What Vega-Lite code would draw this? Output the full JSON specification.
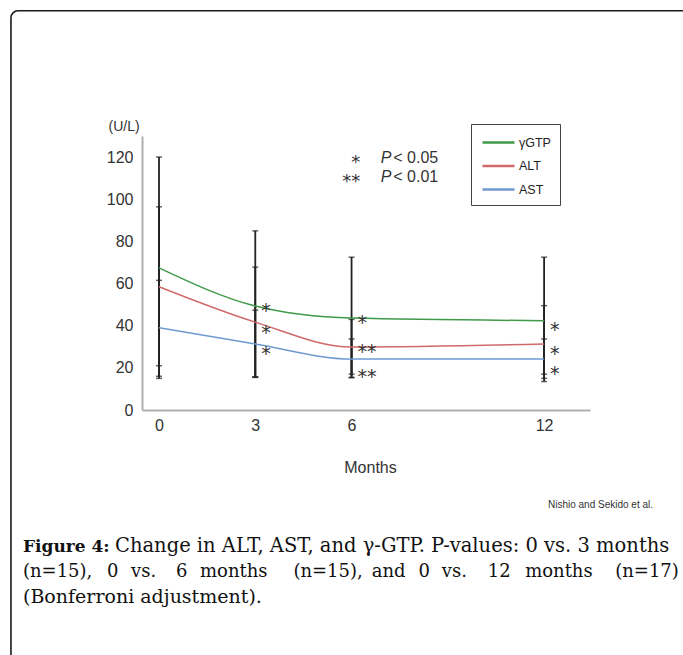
{
  "$schema": "https://vega.github.io/schema/vega-lite/v6.json",
  "width": 448,
  "height": 274,
  "autosize": {"type": "none"},
  "padding": {"left": 142, "top": 136, "right": 93, "bottom": 245},
  "background": "white",
  "config": {
    "view": {"stroke": null},
    "font": "Liberation Sans"
  },
  "datasets": {
    "series": [
      {"series": "γGTP", "month": 0, "mean": 67.4, "lo": 15, "hi": 120},
      {"series": "γGTP", "month": 3, "mean": 49.3, "lo": 15.5, "hi": 85},
      {"series": "γGTP", "month": 6, "mean": 43.6, "lo": 15.5, "hi": 72.5},
      {"series": "γGTP", "month": 12, "mean": 42.4, "lo": 13.5, "hi": 72.5},
      {"series": "ALT", "month": 0, "mean": 58.5, "lo": 21, "hi": 96.4},
      {"series": "ALT", "month": 3, "mean": 41.7, "lo": 15.8, "hi": 67.8},
      {"series": "ALT", "month": 6, "mean": 29.9, "lo": 17, "hi": 43},
      {"series": "ALT", "month": 12, "mean": 31.3, "lo": 15, "hi": 49.5},
      {"series": "AST", "month": 0, "mean": 39, "lo": 16, "hi": 61.5},
      {"series": "AST", "month": 3, "mean": 31.3, "lo": 15.5, "hi": 47.4},
      {"series": "AST", "month": 6, "mean": 24.2, "lo": 15.3, "hi": 33.7},
      {"series": "AST", "month": 12, "mean": 24.2, "lo": 17, "hi": 33.7}
    ],
    "stars": [
      {"month": 3, "value": 49.3, "label": "*"},
      {"month": 3, "value": 39.0, "label": "*"},
      {"month": 3, "value": 28.9, "label": "*"},
      {"month": 6, "value": 43.6, "label": "*"},
      {"month": 6, "value": 29.9, "label": "**"},
      {"month": 6, "value": 18.0, "label": "**"},
      {"month": 12, "value": 40.3, "label": "*"},
      {"month": 12, "value": 28.9, "label": "*"},
      {"month": 12, "value": 19.4, "label": "*"}
    ],
    "keyStars": [
      {"month": 6.27, "value": 119.7, "label": "*"},
      {"month": 6.27, "value": 110.7, "label": "**"}
    ],
    "keyP": [
      {"month": 6.91, "value": 119.7, "label": "P"},
      {"month": 6.91, "value": 110.7, "label": "P"}
    ],
    "keyVal": [
      {"month": 7.3, "value": 119.7, "label": "< 0.05"},
      {"month": 7.3, "value": 110.7, "label": "< 0.01"}
    ],
    "frame": [
      {"x1": -4.613, "x2": 16.86, "y1": 189.4, "y2": -128}
    ],
    "credit": [
      {"month": 12.12, "value": -45.1, "label": "Nishio and Sekido et al."}
    ],
    "captionBold": [
      {"month": -4.239, "value": -67.36, "label": "Figure 4:"}
    ],
    "captionLine1": [
      {"month": -1.372, "value": -67.36, "label": "Change in ALT, AST, and γ-GTP. P-values: 0 vs. 3 months"}
    ],
    "captionLine2": [
      {"month": -4.239, "value": -79.46, "label": "(n=15),"},
      {"month": -1.621, "value": -79.46, "label": "0"},
      {"month": -0.873, "value": -79.46, "label": "vs."},
      {"month": 0.530, "value": -79.46, "label": "6"},
      {"month": 1.278, "value": -79.46, "label": "months"},
      {"month": 4.187, "value": -79.46, "label": "(n=15),"},
      {"month": 6.630, "value": -79.46, "label": "and"},
      {"month": 8.084, "value": -79.46, "label": "0"},
      {"month": 8.812, "value": -79.46, "label": "vs."},
      {"month": 10.246, "value": -79.46, "label": "12"},
      {"month": 11.409, "value": -79.46, "label": "months"},
      {"month": 14.215, "value": -79.46, "label": "(n=17)"}
    ],
    "captionLine3": [
      {"month": -4.239, "value": -91.55, "label": "(Bonferroni adjustment)."}
    ]
  },
  "layer": [
    {
      "data": {"name": "frame"},
      "mark": {"type": "rect", "filled": false, "stroke": "#1a1a1a", "strokeWidth": 1.6, "cornerRadius": 7},
      "encoding": {
        "x": {"field": "x1", "type": "quantitative", "scale": {"domain": [-0.53, 13.43], "nice": false, "zero": false},
          "axis": {"values": [0, 3, 6, 12], "ticks": false, "grid": false, "domainColor": "#b0b0b0", "domainWidth": 2,
            "labelFontSize": 16, "labelColor": "#333", "labelPadding": 7, "title": "Months", "titleFontWeight": "normal",
            "titleFontSize": 16, "titleColor": "#333", "titleX": 228, "titleY": 57, "titleBaseline": "middle"}},
        "x2": {"field": "x2"},
        "y": {"field": "y1", "type": "quantitative", "scale": {"domain": [0, 130], "nice": false, "zero": false},
          "axis": {"values": [0, 20, 40, 60, 80, 100, 120], "ticks": false, "grid": false, "domainColor": "#b0b0b0", "domainWidth": 2,
            "labelFontSize": 16, "labelColor": "#333", "labelPadding": 9, "title": "(U/L)", "titleAngle": 0, "titleFontWeight": "normal",
            "titleFontSize": 14, "titleColor": "#333", "titleX": -34, "titleY": -10, "titleAlign": "left", "titleBaseline": "middle"}},
        "y2": {"field": "y2"}
      }
    },
    {
      "data": {"name": "series"},
      "mark": {"type": "rule", "color": "#222", "strokeWidth": 1.8},
      "encoding": {
        "x": {"field": "month", "type": "quantitative"},
        "y": {"field": "lo", "type": "quantitative"},
        "y2": {"field": "hi"}
      }
    },
    {
      "data": {"name": "series"},
      "mark": {"type": "tick", "orient": "horizontal", "color": "#222", "size": 6, "thickness": 1.5},
      "encoding": {
        "x": {"field": "month", "type": "quantitative"},
        "y": {"field": "lo", "type": "quantitative"}
      }
    },
    {
      "data": {"name": "series"},
      "mark": {"type": "tick", "orient": "horizontal", "color": "#222", "size": 6, "thickness": 1.5},
      "encoding": {
        "x": {"field": "month", "type": "quantitative"},
        "y": {"field": "hi", "type": "quantitative"}
      }
    },
    {
      "data": {"name": "series"},
      "mark": {"type": "line", "strokeWidth": 1.5, "interpolate": "monotone"},
      "encoding": {
        "x": {"field": "month", "type": "quantitative"},
        "y": {"field": "mean", "type": "quantitative"},
        "color": {
          "field": "series", "type": "nominal",
          "scale": {"domain": ["γGTP", "ALT", "AST"], "range": ["#3f9a4a", "#d06a6a", "#6f9ad0"]},
          "legend": {
            "title": null, "orient": "none", "legendX": 329, "legendY": -12,
            "strokeColor": "#444", "padding": 9, "fillColor": "white",
            "symbolType": "M-2,0H2", "symbolSize": 256, "symbolStrokeWidth": 2.5, "symbolOffset": 9,
            "labelFont": "Liberation Sans", "labelFontSize": 12.5, "labelColor": "#222", "labelOffset": 11,
            "rowPadding": 7.5
          }
        }
      }
    },
    {
      "data": {"name": "stars"},
      "mark": {"type": "text", "align": "left", "baseline": "middle", "dx": 6, "dy": 5, "font": "DejaVu Sans", "fontSize": 19, "color": "#333"},
      "encoding": {
        "x": {"field": "month", "type": "quantitative"},
        "y": {"field": "value", "type": "quantitative"},
        "text": {"field": "label"}
      }
    },
    {
      "data": {"name": "keyStars"},
      "mark": {"type": "text", "align": "right", "baseline": "middle", "dy": 5, "font": "DejaVu Sans", "fontSize": 18, "color": "#333"},
      "encoding": {
        "x": {"field": "month", "type": "quantitative"},
        "y": {"field": "value", "type": "quantitative"},
        "text": {"field": "label"}
      }
    },
    {
      "data": {"name": "keyP"},
      "mark": {"type": "text", "align": "left", "baseline": "middle", "fontStyle": "italic", "fontSize": 16, "color": "#333"},
      "encoding": {
        "x": {"field": "month", "type": "quantitative"},
        "y": {"field": "value", "type": "quantitative"},
        "text": {"field": "label"}
      }
    },
    {
      "data": {"name": "keyVal"},
      "mark": {"type": "text", "align": "left", "baseline": "middle", "fontSize": 16, "color": "#333"},
      "encoding": {
        "x": {"field": "month", "type": "quantitative"},
        "y": {"field": "value", "type": "quantitative"},
        "text": {"field": "label"}
      }
    },
    {
      "data": {"name": "credit"},
      "mark": {"type": "text", "align": "left", "baseline": "middle", "font": "Liberation Sans", "fontSize": 10, "color": "#333"},
      "encoding": {
        "x": {"field": "month", "type": "quantitative"},
        "y": {"field": "value", "type": "quantitative"},
        "text": {"field": "label"}
      }
    },
    {
      "data": {"name": "captionBold"},
      "mark": {"type": "text", "align": "left", "baseline": "alphabetic", "font": "DejaVu Serif", "fontWeight": "bold", "fontSize": 17, "color": "#111"},
      "encoding": {
        "x": {"field": "month", "type": "quantitative"},
        "y": {"field": "value", "type": "quantitative"},
        "text": {"field": "label"}
      }
    },
    {
      "data": {"name": "captionLine1"},
      "mark": {"type": "text", "align": "left", "baseline": "alphabetic", "font": "DejaVu Serif", "fontSize": 19.5, "color": "#111"},
      "encoding": {
        "x": {"field": "month", "type": "quantitative"},
        "y": {"field": "value", "type": "quantitative"},
        "text": {"field": "label"}
      }
    },
    {
      "data": {"name": "captionLine2"},
      "mark": {"type": "text", "align": "left", "baseline": "alphabetic", "font": "DejaVu Serif", "fontSize": 18, "color": "#111"},
      "encoding": {
        "x": {"field": "month", "type": "quantitative"},
        "y": {"field": "value", "type": "quantitative"},
        "text": {"field": "label"}
      }
    },
    {
      "data": {"name": "captionLine3"},
      "mark": {"type": "text", "align": "left", "baseline": "alphabetic", "font": "DejaVu Serif", "fontSize": 19, "color": "#111"},
      "encoding": {
        "x": {"field": "month", "type": "quantitative"},
        "y": {"field": "value", "type": "quantitative"},
        "text": {"field": "label"}
      }
    }
  ]
}
